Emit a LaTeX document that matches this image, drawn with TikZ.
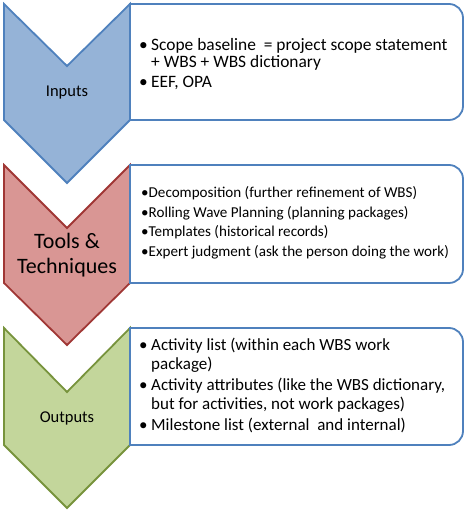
\documentclass[tikz,border=0pt]{standalone}
\usepackage{fontspec}
\setmainfont{Carlito}
\definecolor{inFill}{RGB}{149,179,215}
\definecolor{inLine}{RGB}{79,129,189}
\definecolor{toolFill}{RGB}{217,150,148}
\definecolor{toolLine}{RGB}{160,55,53}
\definecolor{outFill}{RGB}{195,214,155}
\definecolor{outLine}{RGB}{119,147,60}
\definecolor{boxLine}{RGB}{79,129,189}
\tikzset{
  chev/.style={line width=1.8pt, line join=miter},
  listbox/.style={line width=1.8pt, draw=boxLine, fill=white},
  lbl/.style={align=center, inner sep=0pt},
  lst/.style={anchor=west, align=left, inner sep=0pt},
}
\newcommand{\itm}{\makebox[12pt][l]{\textbullet}}
\newcommand{\nxt}{\hspace*{12pt}}
\newcommand{\titm}{\makebox[7.5pt][l]{\textbullet}}

\begin{document}
\begin{tikzpicture}[x=1pt,y=1pt]
  \useasboundingbox (0,0) rectangle (468,510);
  % chevrons and the boxes beside them
  \foreach \t/\n/\b/\p/\c in {506/444/390/327/in, 345/282/227/165/tool, 182/118/65/2/out}{
    \filldraw[chev, draw=\c Line, fill=\c Fill] (4,\t) -- (67,\n) -- (130,\t) -- (130,\b) -- (67,\p) -- (4,\b) -- cycle;
    \filldraw[listbox] (130,\b) -- (130,\t) -- (449,\t) arc[start angle=90, end angle=0, radius=14]
      -- (463,\b+14) arc[start angle=0, end angle=-90, radius=14] -- cycle;
  }
  % stage names
  \node[lbl, font=\fontsize{16.5}{20}\selectfont] (inlbl) at (67,417) {Inputs};
  \node[lbl, font=\fontsize{22}{25}\selectfont] (toollbl) at (67,254.5) {Tools \&\\Techniques};
  \node[lbl, font=\fontsize{16.5}{20}\selectfont] (outlbl) at (67,91.5) {Outputs};
  % lists
  \node[lst, font=\fontsize{17.4}{16.5}\selectfont] (intxt) at (139,446)
    {\itm Scope baseline\ \ = project scope statement\\
     \nxt + WBS + WBS dictionary\\[3.5pt]
     \itm EEF, OPA};
  \node[lst, font=\fontsize{15.1}{19.5}\selectfont] (tooltxt) at (141,287)
    {\titm Decomposition (further refinement of WBS)\\
     \titm Rolling Wave Planning (planning packages)\\
     \titm Templates (historical records)\\
     \titm Expert judgment (ask the person doing the work)};
  \node[lst, font=\fontsize{17}{19}\selectfont] (outtxt) at (139,125)
    {\itm Activity list (within each WBS work\\
     \nxt package)\\[2pt]
     \itm Activity attributes (like the WBS dictionary,\\
     \nxt but for activities, not work packages)\\[2pt]
     \itm Milestone list (external\ \ and internal)};
\end{tikzpicture}
\end{document}
